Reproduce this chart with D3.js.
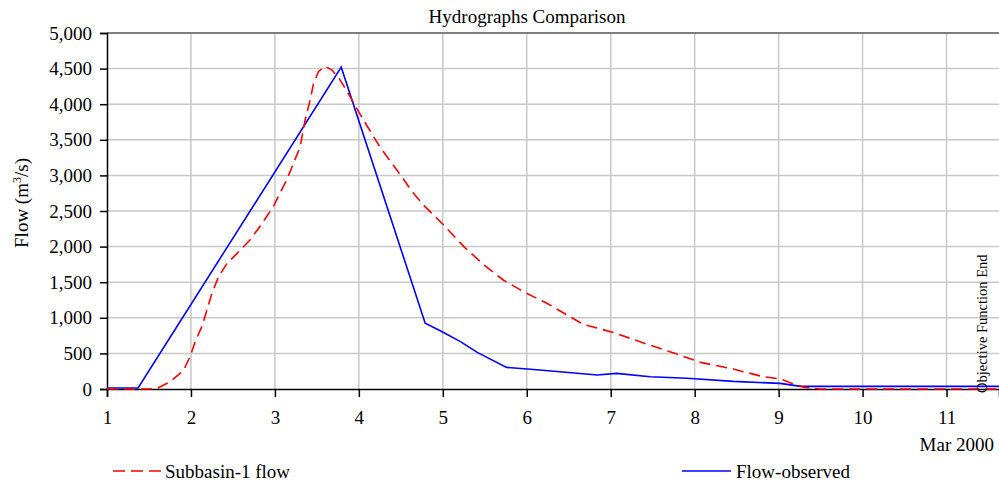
<!DOCTYPE html>
<html>
<head>
<meta charset="utf-8">
<script src="https://cdn.jsdelivr.net/npm/d3@7"></script>
<style>
  html, body { margin: 0; padding: 0; background: #fff; }
  svg text { font-family: "Liberation Serif", "Times New Roman", serif; fill: #000; }
</style>
</head>
<body>
<svg id="chart" width="999" height="486"></svg>
<script>
// ---- data (days in March 2000, flow in m3/s) ----
const obsDays = [1, 1.37, 3.79, 4.79, 4.97, 5.21, 5.41, 5.76, 6.12, 6.84, 7.07, 7.47, 7.91, 8.46, 9.02, 9.26, 11.625];
const obsFlow = [15, 15, 4520, 925, 817, 665, 514, 304, 271, 196, 220, 172, 150, 107, 79, 37, 37];
const simDays = [1, 1.5, 1.6, 1.75, 1.91, 1.99, 2.05, 2.13, 2.19, 2.25, 2.33, 2.43, 2.55, 2.70, 2.82, 2.90, 2.98, 3.06, 3.14,
                 3.30, 3.36, 3.42, 3.46, 3.52, 3.60, 3.68, 3.76, 3.86, 3.96, 4.10, 4.25, 4.45, 4.65, 4.77, 5.01, 5.25, 5.49,
                 5.72, 5.96, 6.24, 6.67, 7.03, 7.43, 7.79, 8.07, 8.46, 8.82, 9.02, 9.18, 9.30, 9.50, 11.625];
const simFlow = [0, 0, 10, 100, 260, 455, 665, 875, 1110, 1345, 1580, 1765, 1905, 2090, 2280, 2420, 2560, 2750, 2935,
                 3400, 3780, 4060, 4290, 4460, 4530, 4480, 4370, 4180, 3970, 3690, 3400, 3080, 2750, 2584, 2303, 2000, 1742,
                 1531, 1367, 1204, 910, 794, 630, 490, 374, 280, 172, 140, 70, 24, 0, 0];
const xTickDays = [1, 2, 3, 4, 5, 6, 7, 8, 9, 10, 11];
const yTicks = [0, 500, 1000, 1500, 2000, 2500, 3000, 3500, 4000, 4500, 5000];
const seriesNames = ["Subbasin-1 flow", "Flow-observed"];
const titleText = "Hydrographs Comparison";
const xUnitLabel = "Mar 2000";
const markerLabel = "Objective Function End";

const toDate = d => new Date(new Date(2000, 2, 1).getTime() + (d - 1) * 86400000);

const svg = d3.select("#chart");
const L = 107, R = 999, T = 33, B = 389;

const x = d3.scaleTime().domain([toDate(1), toDate(11.625)]).range([L, R]);
const y = d3.scaleLinear().domain([0, 5000]).range([B, T]);

// grid
const grid = svg.append("g");
grid.selectAll("line.v").data(xTickDays.slice(1)).join("line")
  .attr("x1", d => x(toDate(d))).attr("x2", d => x(toDate(d)))
  .attr("y1", T).attr("y2", B)
  .attr("stroke", "#c8c8c8").attr("stroke-width", 1.5);
grid.selectAll("line.h").data(yTicks.slice(1, -1)).join("line")
  .attr("x1", L).attr("x2", R)
  .attr("y1", d => y(d)).attr("y2", d => y(d))
  .attr("stroke", "#c8c8c8").attr("stroke-width", 1.5);
// top border
svg.append("line").attr("x1", L).attr("x2", R).attr("y1", y(5000)).attr("y2", y(5000))
  .attr("stroke", "#555").attr("stroke-width", 1.5);

// axes
const yAxis = d3.axisLeft(y).tickValues(yTicks).tickSize(7).tickPadding(8).tickFormat(d3.format(","));
const gy = svg.append("g").attr("transform", `translate(${L},0)`).call(yAxis);
gy.select(".domain").attr("stroke", "#000").attr("stroke-width", 1.5);
gy.selectAll(".tick line").attr("stroke", "#000").attr("stroke-width", 1.5);
gy.selectAll(".tick text").attr("font-size", 19).attr("font-family", "Liberation Serif");

const xAxis = d3.axisBottom(x).tickValues(xTickDays.map(toDate)).tickSize(8).tickPadding(14)
  .tickFormat(d3.timeFormat("%-d"));
const gx = svg.append("g").attr("transform", `translate(0,${B})`).call(xAxis);
gx.select(".domain").attr("stroke", "#000").attr("stroke-width", 1.5);
gx.selectAll(".tick line").attr("stroke", "#000").attr("stroke-width", 1.5);
gx.selectAll(".tick text").attr("font-size", 19).attr("font-family", "Liberation Serif");

// lines
const line = d3.line().x(d => x(toDate(d[0]))).y(d => y(d[1]));
const obs = obsDays.map((d, i) => [d, obsFlow[i]]);
const sim = simDays.map((d, i) => [d, simFlow[i]]);

svg.append("path").datum(obs).attr("d", line)
  .attr("fill", "none").attr("stroke", "#0000ff").attr("stroke-width", 1.6);
svg.append("path").datum(sim).attr("d", line)
  .attr("fill", "none").attr("stroke", "#ff0000").attr("stroke-width", 1.6)
  .attr("stroke-dasharray", "11,6");

// title
svg.append("text").attr("x", 527).attr("y", 23).attr("text-anchor", "middle")
  .attr("font-size", 19).text(titleText);

// y label
const yl = svg.append("text").attr("transform", "translate(28,203) rotate(-90)")
  .attr("text-anchor", "middle").attr("font-size", 19);
yl.append("tspan").text("Flow (m");
yl.append("tspan").attr("font-size", 12).attr("dy", -7).text("3");
yl.append("tspan").attr("dy", 7).text("/s)");

// x unit label
svg.append("text").attr("x", 994).attr("y", 451).attr("text-anchor", "end")
  .attr("font-size", 19).text(xUnitLabel);

// objective function end marker label
svg.append("text").attr("transform", "translate(987,393) rotate(-90)")
  .attr("text-anchor", "start").attr("font-size", 14.5).text(markerLabel);

// legend
const leg = svg.append("g");
leg.append("line").attr("x1", 113).attr("x2", 161).attr("y1", 471).attr("y2", 471)
  .attr("stroke", "#ff0000").attr("stroke-width", 1.6).attr("stroke-dasharray", "12,6");
leg.append("text").attr("x", 165).attr("y", 478).attr("font-size", 19).text(seriesNames[0]);
leg.append("line").attr("x1", 682).attr("x2", 731).attr("y1", 471).attr("y2", 471)
  .attr("stroke", "#0000ff").attr("stroke-width", 1.6);
leg.append("text").attr("x", 736).attr("y", 478).attr("font-size", 19).text(seriesNames[1]);
</script>
</body>
</html>
